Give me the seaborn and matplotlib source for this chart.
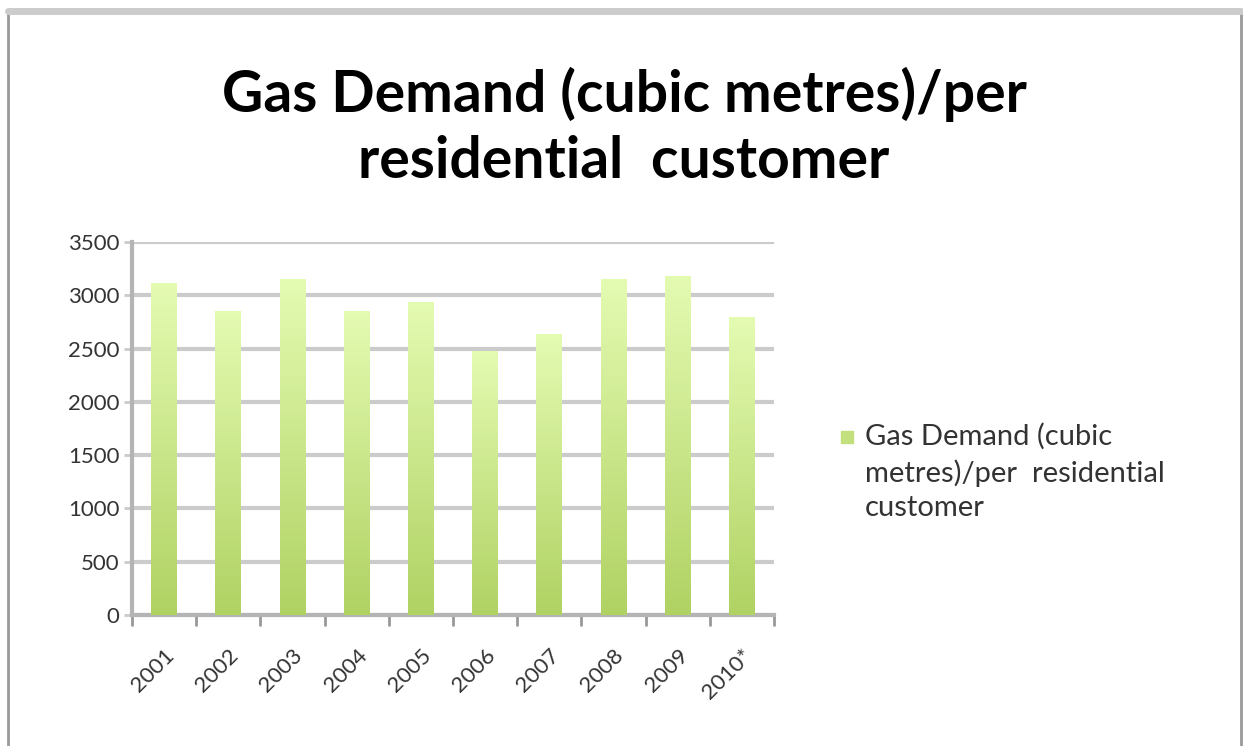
import matplotlib
matplotlib.use("Agg")
import matplotlib.pyplot as plt
import seaborn as sns
import numpy as np
import pandas as pd
from matplotlib.patches import Rectangle
from matplotlib.colors import LinearSegmentedColormap

years = ['2001', '2002', '2003', '2004', '2005', '2006', '2007', '2008', '2009', '2010*']
demand = [3118, 2856, 3149, 2853, 2940, 2478, 2634, 3149, 3181, 2793]
title = 'Gas Demand (cubic metres)/per\nresidential  customer'
legend_text = 'Gas Demand (cubic\nmetres)/per  residential\ncustomer'

df = pd.DataFrame({'Year': years, 'Demand': demand})

sns.set_style('white')
plt.rcParams['font.family'] = ['Lato', 'DejaVu Sans']

fig = plt.figure(figsize=(12.43, 7.46), dpi=100)
ax = fig.add_axes([0.1062, 0.1756, 0.5165, 0.5])

bar_top = '#e4fbb2'
bar_bottom = '#b0d263'
sns.barplot(data=df, x='Year', y='Demand', color=bar_top, width=0.40,
            saturation=1, ax=ax, zorder=3)

# vertical gradient on each bar
cmap = LinearSegmentedColormap.from_list('g', [bar_bottom, bar_top])
grad = np.linspace(0, 1, 256).reshape(-1, 1)
for p in ax.patches:
    x0, y0 = p.get_x(), p.get_y()
    w, h = p.get_width(), p.get_height()
    im = ax.imshow(grad, cmap=cmap, origin='lower', aspect='auto',
                   extent=[x0, x0 + w, y0, y0 + h], zorder=3)
    im.set_clip_path(p)
    p.set_edgecolor('none')

ax.set_xlim(-0.5, len(years) - 0.5)
ax.set_ylim(0, 3500)
ax.set_yticks(range(0, 3501, 500))
ax.set_xlabel('')
ax.set_ylabel('')

ax.grid(axis='y', color='#cbcbcb', linewidth=3, zorder=0)
for s in ['top', 'right']:
    ax.spines[s].set_visible(False)
for s in ['left', 'bottom']:
    ax.spines[s].set_color('#b4b4b4')
    ax.spines[s].set_linewidth(3)

ax.tick_params(axis='y', length=6, width=2, color='#cbcbcb', labelsize=16,
               labelcolor='#333333', pad=3, left=True)
ax.set_xticks(range(len(years)))
ax.set_xticklabels(years, rotation=45, ha='right', rotation_mode='anchor')
ax.tick_params(axis='x', length=0, labelsize=16, labelcolor='#333333', pad=22)
ax.set_xticks(np.arange(-0.5, len(years)), minor=True)
ax.tick_params(axis='x', which='minor', length=8, width=2, color='#999999',
               bottom=True)

fig.text(0.502, 0.829, title, ha='center', va='center', fontsize=41,
         fontweight='bold', color='black', linespacing=1.3)

# legend
fig.patches.append(Rectangle((841 / 1243, 1 - 443 / 746), 12 / 1243, 12 / 746,
                             transform=fig.transFigure, color='#c2e07e'))
fig.text(865 / 1243, 1 - 423 / 746, legend_text,
         ha='left', va='top', fontsize=21, color='#333333', linespacing=1.4)

# outer frame
fig.patches.append(Rectangle((8 / 1243, -0.01), 1233 / 1243, 0.995,
                             transform=fig.transFigure, fill=False,
                             edgecolor='#999999', linewidth=2))
fig.lines.append(plt.Line2D([8 / 1243, 1241 / 1243], [1 - 11 / 746] * 2,
                            transform=fig.transFigure, color='#cccccc',
                            linewidth=5))

fig.savefig('out.png', dpi=100, facecolor='white')
